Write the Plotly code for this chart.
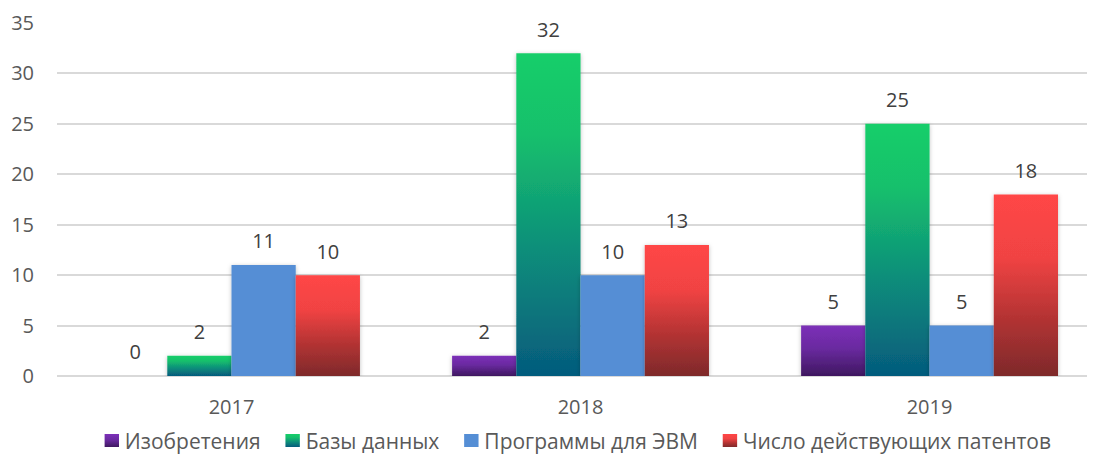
import plotly.graph_objects as go

# ---- data ----
years = ["2017", "2018", "2019"]
series_names = ["Изобретения", "Базы данных", "Программы для ЭВМ", "Число действующих патентов"]
inventions = [0, 2, 5]
databases = [2, 32, 25]
programs = [11, 10, 5]
patents = [10, 13, 18]
y_ticks = [0, 5, 10, 15, 20, 25, 30, 35]

series_values = [inventions, databases, programs, patents]
base_colors = ["#5E2890", "#10A078", "#558ED5", "#C23838"]

FONT = "Open Sans"
FS = 20
GAP = 0.264

fig = go.Figure()
for i, (name, vals) in enumerate(zip(series_names, series_values)):
    fig.add_trace(go.Bar(
        x=years, y=vals, name=name,
        marker=dict(color=base_colors[i], line=dict(width=0)),
        offsetgroup=str(i), hoverinfo="skip",
    ))
for i, vals in enumerate(series_values):
    fig.add_trace(go.Scatter(
        x=years, y=vals, mode="markers+text",
        text=[str(v) for v in vals], textposition="top center",
        textfont=dict(family=FONT, size=FS, color="#404040"),
        marker=dict(size=17, opacity=0),
        offsetgroup=str(i), showlegend=False, hoverinfo="skip", cliponaxis=False,
    ))

# page body has an 8px margin, so the figure is 8px smaller than the window
fig.update_layout(
    width=1087, height=447, autosize=False,
    margin=dict(l=49, r=0, t=15, b=79, autoexpand=False),
    paper_bgcolor="white", plot_bgcolor="white",
    barmode="group", bargap=GAP, bargroupgap=0,
    scattermode="group", scattergap=GAP,
    font=dict(family=FONT, size=FS, color="#595959"),
    showlegend=True,
    legend=dict(orientation="h", x=0.495, xanchor="center", y=-0.184, yanchor="middle",
                font=dict(family=FONT, size=21, color="#595959"),
                itemclick=False, itemdoubleclick=False, traceorder="normal"),
    xaxis=dict(type="category", range=[-0.5, 2.474], showgrid=False, showline=False,
               automargin=False, ticks="", ticklabelstandoff=17,
               tickfont=dict(size=FS, color="#595959")),
    yaxis=dict(range=[0, 35], tickvals=y_ticks, showgrid=True, gridcolor="#D9D9D9", gridwidth=1.5,
               zeroline=True, zerolinecolor="#D9D9D9", zerolinewidth=1.5, showline=False,
               automargin=False, ticks="", ticklabelstandoff=22,
               tickfont=dict(size=FS, color="#595959")),
)

js = r"""
var gd = document.getElementById('{plot_id}');
var ns = 'http://www.w3.org/2000/svg';
var svg = gd.querySelector('.main-svg');
var defs = document.createElementNS(ns, 'defs');
svg.insertBefore(defs, svg.firstChild);
var grads = [
  [[0,'#7C30B8'],[0.45,'#6A2AA0'],[1,'#3F1860']],
  [[0,'#17CE6A'],[0.25,'#15C06C'],[0.6,'#0E8F7A'],[1,'#055B7D']],
  null,
  [[0,'#FF4646'],[0.35,'#F04343'],[0.7,'#B03232'],[1,'#7E2A2B']]
];
grads.forEach(function(g, i){
  if(!g) return;
  var lg = document.createElementNS(ns, 'linearGradient');
  lg.setAttribute('id', 'barGrad' + i);
  lg.setAttribute('x1','0'); lg.setAttribute('y1','0');
  lg.setAttribute('x2','0'); lg.setAttribute('y2','1');
  g.forEach(function(s){
    var st = document.createElementNS(ns, 'stop');
    st.setAttribute('offset', s[0]);
    st.setAttribute('stop-color', s[1]);
    lg.appendChild(st);
  });
  defs.appendChild(lg);
});
var f = document.createElementNS(ns, 'filter');
f.setAttribute('id', 'barShadow');
f.setAttribute('x','-20%'); f.setAttribute('y','-20%');
f.setAttribute('width','140%'); f.setAttribute('height','140%');
var ds = document.createElementNS(ns, 'feDropShadow');
ds.setAttribute('dx','0'); ds.setAttribute('dy','1');
ds.setAttribute('stdDeviation','2');
ds.setAttribute('flood-color','#000'); ds.setAttribute('flood-opacity','0.25');
f.appendChild(ds); defs.appendChild(f);
var traces = gd.querySelectorAll('.barlayer .trace.bars');
traces.forEach(function(t, i){
  t.querySelectorAll('.point path').forEach(function(p){
    if (grads[i]) p.style.fill = 'url(#barGrad' + i + ')';
    p.setAttribute('filter', 'url(#barShadow)');
  });
});
var leg = gd.querySelectorAll('.legend .traces');
leg.forEach(function(t, i){
  var lp = t.querySelector('.legendpoints');
  if (lp) lp.setAttribute('transform', 'translate(7,0)');
  t.querySelectorAll('.legendpoints path').forEach(function(p){
    if (grads[i]) p.style.fill = 'url(#barGrad' + i + ')';
    var tr = p.getAttribute('transform') || '';
    p.setAttribute('transform', tr + ' scale(1.2,1.08)');
  });
});
"""

fig.write_html("out.html", post_script=js, config={"displayModeBar": False})
